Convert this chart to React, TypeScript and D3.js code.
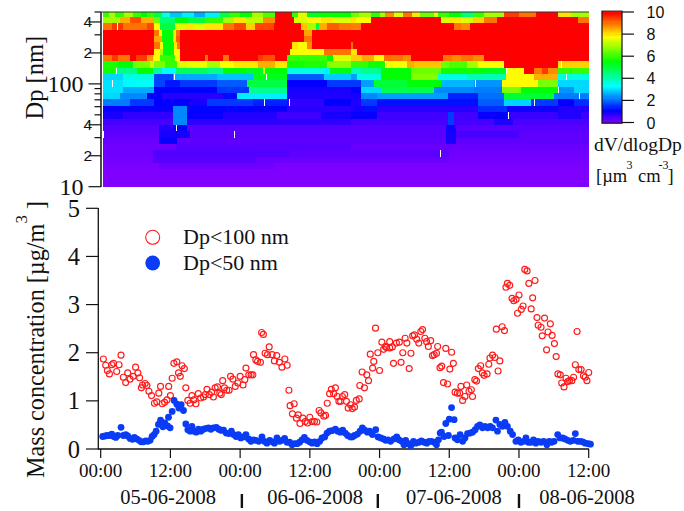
import React from "react";
import * as d3 from "d3";

// ---- Heat map: one list per size bin, top bin first; each entry = [end hour, dV/dlogDp]
const heatRows: number[][][] = [
  [[1.5,6],[2.5,7],[4,6],[5.5,7],[7,6],[8,5.5],[9.2,6],[10.5,5],[12,3.5],[14,2.8],[16,3.2],[18,2.6],[20.6,3.2],[22,5],[24,6],[26,5.5],[28,7],[30,6.2],[33,10],[34,6],[35.5,7.5],[38,5.3],[43,5.6],[44.5,6.5],[46.5,7],[48,6],[49,7],[50.5,8.8],[52,7.5],[53.5,9],[55,8],[57.4,6.5],[58,7.5],[60,6],[62,5.5],[64,4.5],[66,6],[68,7],[69.5,7],[72,9.5],[75,9],[78.7,10],[81,8],[84.2,7]],
  [[3.4,7],[5,8.5],[7,9.3],[9.1,8.5],[10.2,6.5],[12.8,4.6],[15,5.5],[18,5],[21,6],[23,7],[25,8],[28,7.2],[30,8.8],[33.2,10],[35.5,7.5],[38,7.8],[40,8],[43,7.5],[44,8],[46.5,7.8],[58.5,10],[60,7.5],[62,8],[64,7.5],[66,8.2],[68.3,9],[82.1,10],[84.2,9]],
  [[2,9],[3.9,9.5],[8,9],[9.1,9.4],[10.2,7.8],[12.8,5],[14.5,7.5],[16,8],[18,7.5],[21,8],[23,9],[25,9.4],[26.5,8.2],[29.8,9.4],[34.4,10],[35.5,8.3],[37,7],[37.6,5],[39,8.5],[41,9.2],[43,9],[44.8,8.9],[60.8,10],[62,9],[63.5,8.8],[84.2,10]],
  [[9.1,10],[10,9],[10.5,7.8],[12.5,5.5],[13,7.5],[13.7,9],[35,10],[36.4,8.6],[84.2,10]],
  [[9.1,10],[10.5,8.5],[12.4,5.5],[13,8],[13.7,9.2],[35,10],[36.4,9],[84.2,10]],
  [[9.1,10],[10.2,9],[10.7,7.7],[12.6,5.5],[13.2,8],[13.7,9],[33,10],[34,8],[35.5,7.8],[36.4,8.8],[43,10],[43.5,9],[44,10],[84.2,10]],
  [[9.1,10],[10.2,7.8],[10.7,7],[12.7,5.5],[13.7,7.8],[32.6,10],[35,7.7],[38.5,7.8],[43,9],[44.2,8],[84.2,10]],
  [[2,9],[3,9.5],[5,9],[6,10],[8,9.5],[9,8.7],[10.2,7.8],[12.8,6],[13.7,7.7],[18,10],[18.5,9],[21,10],[22,9],[27,10],[28,9.5],[30,9.3],[32,10],[39,6],[40,5.5],[43,7.5],[45,8.2],[47,8.5],[48.8,7.8],[49.5,9],[52,9],[53.4,8.8],[59,10],[60.5,9],[62,8.8],[64,9],[66,8.8],[84.2,10]],
  [[3,5.8],[5.6,5.5],[8.5,6.6],[9.1,7.3],[11,6.6],[13.1,6],[15,7.5],[18.3,7.6],[20.6,7],[23,7.8],[27,8],[30,8.5],[32.1,8],[35,5.7],[39,5.8],[43,6.8],[46,6],[49,5.7],[52.8,7.7],[54,8.5],[58.5,8.3],[60,6.5],[63,6.2],[65,7],[69.5,7.8],[78.7,10],[79.2,8],[84.2,8.2]],
  [[2.5,5.7],[6.2,4.4],[9,5.6],[10.5,4.2],[13,3.4],[18.3,4.8],[21,4.4],[25,5.5],[28,5.3],[28.3,7.5],[32.1,5.5],[38.4,3.6],[39.5,3.2],[43,5.4],[44.8,4],[48.2,4.3],[53.4,5.5],[58.5,6.5],[65.4,5.7],[69.75,5.3],[72.9,7.8],[74.5,10],[76,8.9],[77,9.5],[78.7,8.8],[84.2,6]],
  [[3.9,3],[9.1,3.6],[12.5,1.7],[20,2.6],[26.3,2.8],[32.1,5.3],[38.4,1.9],[43,2.9],[44.2,2.5],[48.2,3.6],[53.4,5.5],[58,6.7],[63,3.6],[69.75,4],[74.6,7.8],[78.7,8.5],[84.2,3.6]],
  [[3.9,3.1],[6,3.3],[9.1,3.4],[11,1.7],[13.7,1.3],[20,1.6],[25.2,1.9],[26.5,5],[32.1,5],[39,1.1],[43,1.6],[44.8,1.6],[47,2.5],[52.8,5.1],[58.5,5.5],[64.3,2.7],[69,2.4],[75.2,7.8],[78.7,6.6],[84.2,3]],
  [[3.9,3.1],[9.1,2.6],[20,1.1],[25.5,1.6],[32.1,4.3],[43,0.9],[44.8,1.1],[48.2,3],[57.4,4.9],[64.3,2.3],[69,2.2],[72.3,6.6],[78.7,5.5],[81.5,2.4],[84.2,3]],
  [[3.4,3],[8,2.3],[10.5,1.1],[21,0.8],[23.5,1.2],[32.1,3.2],[43,0.85],[44.8,0.9],[47.6,2.3],[59.7,2.5],[64.9,1.4],[69.5,2.1],[78.1,5.1],[84.2,2.2]],
  [[5,2.2],[9.1,1.6],[15.4,1.1],[18.3,0.9],[26.3,1.6],[32.1,1.4],[38.4,0.7],[43,1.1],[44.8,0.85],[47.6,1.6],[64.9,1.25],[69.5,1.9],[74,2.95],[78.7,1.6],[81.5,1.1],[84.2,1.5]],
  [[12.5,1.05],[14.8,2.3],[26,1.15],[32.1,1.05],[43,0.75],[45.3,0.9],[47.6,1.25],[64.9,0.76],[70,1.5],[78.7,1],[84.2,0.83]],
  [[3.9,0.9],[12.5,0.7],[14.8,2.3],[21.1,1.04],[30.3,0.83],[38,0.55],[43,0.9],[47.6,1.04],[59.7,0.55],[60.8,1.63],[64.9,0.55],[68.3,1.04],[70,1.11],[78.7,0.62],[82.7,0.83],[84.2,0.6]],
  [[12.5,0.5],[14.8,2.3],[43,0.7],[59.7,0.5],[60.8,1.63],[67.7,0.5],[71,0.83],[84.2,0.45]],
  [[10,0.35],[12.5,0.83],[14.8,1.04],[59.4,0.35],[61.1,0.97],[84.2,0.35]],
  [[10,0.28],[15.4,0.9],[59.4,0.35],[61.1,0.9],[72,0.5],[84.2,0.28]],
  [[10,0.2],[13.1,1.04],[59.4,0.28],[61.1,0.9],[84.2,0.28]],
  [[13,0.14],[43,0.35],[84.2,0.2]],
  [[9,0.14],[32.6,0.4],[60,0.3],[84.2,0.14]],
  [[9,0.08],[26.9,0.35],[60,0.2],[84.2,0.08]],
  [[10,0.05],[30,0.14],[84.2,0.03]],
  [[84.2,0]],
  [[84.2,0]],
  [[84.2,0]],
];
// Missing cells: [hour, row counted from the top]
const missingCells = [[2.87,2],[2.6,9],[1.9,11],[12.7,10],[28.45,10],[28.05,14],[32.35,14],[13,18],[23,19],[0.46,19],[64.5,11],[80.1,10],[78.8,12],[74.5,14],[70.15,16],[58.4,22],[49,8],[69.75,9],[79.2,8],[82.4,13]];

// ---- Scatter series: [hours since 00:00 on 05-06-2008, mass concentration]
const under100: number[][] = [
[0.46,1.87],[0.86,1.74],[1.15,1.63],[1.5,1.56],[1.9,1.75],[2.2,1.78],[2.75,1.61],[3.16,1.75],[3.5,1.95],[3.9,1.49],[4.3,1.38],[4.65,1.58],[5.05,1.45],[5.6,1.51],[6,1.7],[6.4,1.58],[6.7,1.48],[7,1.27],[7.2,1.33],[7.65,1.36],[7.95,1.32],[8.3,1.2],[8.75,1.11],[9.25,0.95],[9.65,0.98],[10,1.16],[10.3,1.3],[10.6,0.94],[11,0.97],[11.4,1.02],[11.7,1.3],[12,1.11],[12.3,1.47],[12.6,1.78],[13.1,1.81],[13.4,1.58],[13.7,1.51],[14,1.73],[14.4,1.67],[14.65,1.27],[15,1.01],
[15.4,0.95],[15.7,1.11],[16,1.02],[16.4,0.94],[16.8,1.15],[17.2,1.06],[17.7,1.08],[18,1.13],[18.3,1.24],[18.7,1.13],[19.1,1.18],[19.4,1.08],[19.7,1.27],[20.1,1.29],[20.5,1.16],[20.75,1.13],[21,1.42],[21.3,1.27],[21.7,1.22],[22.1,1.22],[22.35,1.51],[22.75,1.45],[23.16,1.3],[23.6,1.37],[24,1.51],[24.5,1.33],[24.8,1.44],[25,1.68],[25.5,1.54],[25.9,1.54],[26.2,1.54],[26.3,1.96],[26.7,1.85],[27,1.82],[27.5,1.8],[27.7,2.42],[28,2.38],[28.3,1.99],[28.7,1.96],[29,2.12],[29.5,1.96],[29.9,1.83],[30.3,1.94],[30.75,1.8],[31.2,1.7],[31.7,1.87],[32.1,1.74],[32.4,1.22],[32.6,0.9],[33,0.73],[33.3,0.94],[33.7,0.64],[34,0.71],[34.3,0.53],[34.8,0.64],[35.2,0.57],[35.6,0.54],[36,0.66],[36.4,0.57],[36.8,0.57],[37.2,0.56],[37.6,0.8],[37.9,0.75],[38.4,0.68],[38.7,0.7],[39,0.95],[39.4,1.15],[39.7,1.24],[40.1,1.15],[40.4,1.27],[40.7,1.09],[41,0.99],
[41.3,0.99],[41.6,1.09],[42,1.13],[42.3,0.99],[42.6,0.85],[43,0.92],[43.3,0.84],[43.7,0.87],[44,1.01],[44.5,1.04],[44.6,1.32],[45,1.6],[45.4,1.27],[45.8,1.54],[46.1,1.42],[46.4,1.97],[46.8,1.68],[47,1.82],[47.3,2.51],[47.7,2],[48,1.63],[48.4,2.22],[48.7,2.07],[49,2.13],[49.2,2.11],[49.75,2.23],[49.75,2.1],[50.2,2.12],[50.4,1.78],[50.9,2.2],[51.4,2.22],[51.7,1.8],[52,2],[52.4,2.3],[52.7,2.2],[53.1,1.67],[53.4,1.99],[53.7,2.35],[54,2.37],[54.4,2.28],[54.75,2.2],[55.1,2.44],[55.4,2.48],[55.8,2.3],[56.1,2.23],[56.4,2.13],[56.8,2.25],[57.1,1.94],[57.4,1.96],[57.8,1.99],[58,2.13],[58.4,1.69],[58.7,1.72],[59,1.38],[59.4,2.09],[59.7,1.35],[60.1,1.66],[60.4,2.01],[60.7,1.78],[61,1.18],[61.4,1.16],[61.8,1.16],[62,1.3],[62.3,1.01],[62.7,1.09],[63,1.33],[63.4,1.2],[63.8,1.23],[64,1.09],[64.4,1.44],[64.7,1.41],[65,1.67],[65.4,1.73],[65.7,1.58],[66,1.53],[66.5,1.56],[66.8,1.76],[67,1.89],[67.45,1.95],[67.85,1.9],[68.1,2.49],[68.4,1.62],[68.7,1.83],[69.1,2.54],[69.5,2.46],[69.75,3.36],[70,3.44],[70.4,3.4],[70.8,3.13],[71.1,3.08],[71.5,3.11],[71.75,2.82],[72,3.2],[72.4,2.9],[72.7,2.97],[73,3.73],[73.4,3.7],[73.7,3.44],[74.1,2.91],[74.35,3.14],[74.75,3.5],[75.1,2.73],[75.3,2.57],[75.8,2.53],[76,2.35],[76.4,2.72],[76.75,2.06],[77,2.43],[77.4,2.6],[77.7,2.36],[78.1,2.19],[78.4,1.92],[78.7,1.56],[79.1,1.54],[79.35,1.37],[79.75,1.29],[80.1,1.47],[80.4,1.4],[80.7,1.42],[81.1,1.42],[81.4,1.49],[81.7,1.75],[82,2.44],[82.3,1.65],[82.7,1.65],[83.1,1.52],[83.4,1.49],[83.7,1.42],[84,1.59],
];
const under50: number[][] = [
[0.34,0.26],[0.75,0.27],[1.15,0.28],[1.5,0.28],[1.9,0.31],[2.24,0.26],[2.6,0.24],[2.93,0.28],[3.5,0.45],[3.9,0.28],[4.3,0.3],[4.65,0.27],[5.06,0.22],[5.46,0.2],[5.8,0.24],[6.2,0.21],[6.6,0.18],[6.95,0.15],[7.35,0.15],[7.76,0.17],[8.1,0.16],[8.5,0.18],[8.85,0.26],[9.2,0.3],[9.54,0.37],[9.94,0.51],[10.3,0.6],[10.7,0.46],[11.03,0.54],[11.5,0.48],[11.67,0.66],[11.95,0.44],[12.3,0.78],[12.64,1.01],[13.1,0.93],[13.45,0.85],[13.85,0.92],[14.25,0.8],[14.65,0.52],[15,0.4],[15.4,0.37],[15.7,0.47],[16.1,0.37],[16.44,0.35],[16.84,0.41],[17.24,0.37],[17.7,0.41],[18.16,0.43],[18.56,0.44],[18.96,0.41],[19.4,0.44],[19.9,0.45],[20.3,0.41],[20.7,0.39],[21.15,0.39],[21.6,0.33],[22.07,0.32],[22.5,0.37],[22.87,0.3],[23.3,0.26],[23.7,0.3],[24.1,0.23],[24.6,0.25],[25,0.3],[25.46,0.21],[25.86,0.16],[26.3,0.19],[26.7,0.18],[27.2,0.16],[27.76,0.25],[28.16,0.16],[28.6,0.12],[29.1,0.18],[29.54,0.15],[29.9,0.12],[30.34,0.23],[30.8,0.16],[31.2,0.18],[31.66,0.22],[32.07,0.14],[32.5,0.14],[32.93,0.09],[33.33,0.11],[33.8,0.11],[34.25,0.14],[34.65,0.19],[35.06,0.24],[35.5,0.18],[35.97,0.15],[36.4,0.12],[36.8,0.15],[37.24,0.11],[37.7,0.16],[38.1,0.23],[38.56,0.25],[38.96,0.33],[39.37,0.37],[39.8,0.38],[40.4,0.41],[40.8,0.37],[41.26,0.35],[41.66,0.39],[42.1,0.33],[42.5,0.28],[43,0.25],
[43.3,0.25],[43.7,0.28],[44.2,0.31],[44.64,0.37],[45.04,0.44],[45.44,0.39],[45.9,0.35],[46.3,0.37],[46.76,0.3],[47.34,0.4],[47.74,0.25],[48.2,0.23],[48.66,0.21],[49.06,0.18],[49.46,0.19],[49.9,0.16],[50.5,0.21],[50.96,0.25],[51.36,0.19],[51.8,0.16],[52.2,0.09],[52.5,0.18],[52.97,0.11],[53.37,0.07],[53.83,0.16],[54.23,0.12],[54.8,0.14],[55.2,0.17],[55.67,0.14],[56.13,0.12],[56.53,0.16],[56.93,0.16],[57.4,0.14],[57.8,0.09],[58.14,0.19],[58.43,0.33],[58.66,0.35],[59.1,0.26],[59.4,0.53],[59.86,0.28],[60,0.62],[60.4,0.86],[60.84,0.61],[61,0.23],[61.4,0.19],[61.87,0.3],[62.3,0.16],[62.7,0.23],[63.14,0.32],[63.6,0.33],[64,0.35],[64.46,0.4],[64.87,0.47],[65.27,0.5],[65.73,0.44],[66.13,0.47],[66.6,0.44],[67.04,0.47],[67.44,0.44],[68.03,0.6],[68.3,0.37],[68.7,0.51],[69.17,0.47],[69.58,0.55],[70,0.47],[70.5,0.37],[70.9,0.3],[71.47,0.16],[71.87,0.19],[72.33,0.14],[72.8,0.16],[73.2,0.23],[73.6,0.14],[74.05,0.14],[74.5,0.19],[74.9,0.12],[75.3,0.16],[75.8,0.14],[76.24,0.16],[76.8,0.09],[77.2,0.16],[77.6,0.14],[78.05,0.16],[78.66,0.3],[79.06,0.23],[79.5,0.23],[79.9,0.21],[80.4,0.18],[80.84,0.16],[81.36,0.18],[81.7,0.32],[82.1,0.16],[82.56,0.16],[82.97,0.15],[83.4,0.12],[83.94,0.11],[84.3,0.1],
];

const massTicks = [0, 1, 2, 3, 4, 5];
const timeTickHours = [0, 12, 24, 36, 48, 60, 72, 84];
const timeTickLabels = ["00:00", "12:00", "00:00", "12:00", "00:00", "12:00", "00:00", "12:00"];
const dateLabels = ["05-06-2008", "06-06-2008", "07-06-2008", "08-06-2008"];
const dateCentres = [11.6, 36.9, 60.8, 83.7];
const dateSeparators = [24.3, 47.7, 72];
const dpMajor = [10, 20, 40, 100, 200, 400];
const dpMinor = [30, 50, 60, 70, 80, 90, 300, 500];
const dpLabels: Record<number, string> = { 10: "10", 20: "2", 40: "4", 100: "100", 200: "2", 400: "4" };
const colorTicks = [0, 2, 4, 6, 8, 10];

const SERIF = "'Liberation Serif', 'Times New Roman', serif";
const SANS = "'Liberation Sans', Arial, sans-serif";
const INK = "#111";

const x = d3.scaleLinear().domain([0, 84]).range([100.7, 588.7]);
const yMass = d3.scaleLinear().domain([0, 5]).range([449, 208.3]);
const yDp = d3.scaleLog().domain([10, 500]).range([186.7, 12]).clamp(true);
const yColor = d3.scaleLinear().domain([0, 10]).range([122.5, 12]);
const rainbow = (v: number) => d3.hsl(270 * (1 - Math.min(v, 10) / 10), 1, 0.5).formatHex();

// Bin edges: about 16 size channels per decade
const edgeDp = (j: number) => Math.pow(10, 1 + 0.0467 + j / 16.22);

export default function App() {
  const nRows = heatRows.length;
  const rowBand = (rowFromTop: number) => {
    const r = nRows - 1 - rowFromTop;
    const lo = r === 0 ? 10 : edgeDp(r - 1);
    const hi = r === nRows - 1 ? 500 : edgeDp(r);
    return { top: yDp(hi), bottom: yDp(lo) };
  };
  const barSteps = d3.range(0, 10, 0.1);
  return (
    <svg width={684} height={511} style={{ position: "absolute", left: 0, top: 0, background: "#fff" }}>
      {/* heat map */}
      <g shapeRendering="crispEdges" style={{ filter: "blur(0.35px)" }}>
        {heatRows.map((row, i) => {
          const { top, bottom } = rowBand(i);
          let start = 0.46;
          return row.map(([end, v], k) => {
            const x0 = x(start);
            const x1 = x(Math.min(end, 84));
            start = end;
            return <rect key={`${i}-${k}`} x={x0} y={top} width={x1 - x0 + 0.4} height={bottom - top + 0.4} fill={rainbow(v)} />;
          });
        })}
        {missingCells.map(([h, r], i) => {
          const { top, bottom } = rowBand(r);
          return <rect key={i} x={x(h)} y={top} width={1} height={bottom - top} fill="#fff" />;
        })}
      </g>
      {/* heat map axes */}
      <line x1={101} x2={101} y1={12} y2={187} stroke={INK} strokeWidth={1.5} />
      <line x1={101} x2={589} y1={12} y2={12} stroke="#333" strokeWidth={1.2} />
      {dpMajor.map((d) => (
        <line key={d} x1={88.5} x2={101} y1={yDp(d)} y2={yDp(d)} stroke={INK} strokeWidth={1.2} />
      ))}
      {dpMinor.map((d) => (
        <line key={d} x1={94.5} x2={101} y1={yDp(d)} y2={yDp(d)} stroke={INK} strokeWidth={1.2} />
      ))}
      {dpMajor.map((d) =>
        d === 10 || d === 100 ? (
          <text key={d} x={83.5} y={yDp(d) + 8.5} textAnchor="end" fontFamily={SERIF} fontSize={24} fill={INK}>{dpLabels[d]}</text>
        ) : (
          <text key={d} x={92} y={yDp(d) + 5.5} textAnchor="end" fontFamily={SANS} fontSize={15.5} fill={INK}>{dpLabels[d]}</text>
        )
      )}
      <text transform="translate(43,119.5) rotate(-90)" fontFamily={SERIF} fontSize={24.5} fill={INK}>Dp [nm]</text>

      {/* colour bar */}
      <g shapeRendering="crispEdges">
        {barSteps.map((v) => (
          <rect key={v} x={602} y={yColor(v + 0.1)} width={20} height={yColor(v) - yColor(v + 0.1) + 0.5} fill={rainbow(v + 0.05)} />
        ))}
      </g>
      <rect x={602} y={11.2} width={20} height={112} fill="none" stroke={INK} strokeWidth={1.2} />
      {colorTicks.map((t) => (
        <g key={t}>
          <line x1={622} x2={634} y1={yColor(t)} y2={yColor(t)} stroke={INK} strokeWidth={1.2} />
          <text x={646.5} y={yColor(t) + 6} fontFamily={SANS} fontSize={16} fill={INK}>{t}</text>
        </g>
      ))}
      <text x={594} y={151} fontFamily={SERIF} fontSize={19.5} fill={INK}>dV/dlogDp</text>
      <text x={596} y={182} fontFamily={SERIF} fontSize={18.5} fill={INK}>[µm</text>
      <text x={626.5} y={169} fontFamily={SERIF} fontSize={12} fill={INK}>3</text>
      <text x={638} y={182} fontFamily={SERIF} fontSize={18.5} fill={INK}>cm</text>
      <text x={658.5} y={169} fontFamily={SERIF} fontSize={12} fill={INK}>-3</text>
      <text x={667.5} y={182} fontFamily={SERIF} fontSize={18.5} fill={INK}>]</text>

      {/* scatter axes */}
      <line x1={98.3} x2={98.3} y1={208} y2={449.5} stroke={INK} strokeWidth={1.3} />
      <line x1={98} x2={589} y1={449} y2={449} stroke={INK} strokeWidth={1.3} />
      {massTicks.map((t) => (
        <g key={t}>
          <line x1={86} x2={98.3} y1={yMass(t)} y2={yMass(t)} stroke={INK} strokeWidth={1.2} />
          <text x={80} y={yMass(t) + 8.5} textAnchor="end" fontFamily={SERIF} fontSize={24.5} fill={INK}>{t}</text>
        </g>
      ))}
      {timeTickHours.map((h, i) => (
        <g key={h}>
          <line x1={x(h)} x2={x(h)} y1={449} y2={458} stroke={INK} strokeWidth={1.2} />
          <text x={x(h)} y={476.5} textAnchor="middle" fontFamily={SERIF} fontSize={19} fill={INK}>{timeTickLabels[i]}</text>
        </g>
      ))}
      {dateLabels.map((d, i) => (
        <text key={d} x={x(dateCentres[i])} y={503.5} textAnchor="middle" fontFamily={SERIF} fontSize={20.5} fill={INK}>{d}</text>
      ))}
      {dateSeparators.map((h) => (
        <line key={h} x1={x(h)} x2={x(h)} y1={494} y2={508} stroke="#111" strokeWidth={2.4} />
      ))}
      <text transform="translate(44,478) rotate(-90)" fontFamily={SERIF} fontSize={24.2} fill={INK}>
        Mass concentration [µg/m<tspan dy={-17} fontSize={17}>3</tspan><tspan dy={17}> ]</tspan>
      </text>

      {/* series */}
      {under100.map(([h, v], i) => (
        <circle key={i} cx={x(h)} cy={yMass(v)} r={3} fill="none" stroke="#ff1a1a" strokeWidth={1.15} />
      ))}
      {under50.map(([h, v], i) => (
        <circle key={i} cx={x(h)} cy={yMass(v)} r={3.4} fill="#0a3cf5" />
      ))}

      {/* legend */}
      <circle cx={152.7} cy={237.3} r={7} fill="none" stroke="#ff1a1a" strokeWidth={1.1} />
      <circle cx={152.7} cy={263} r={7.4} fill="#0a3cf5" />
      <text x={183} y={244} fontFamily={SERIF} fontSize={22} fill={INK}>Dp&lt;100 nm</text>
      <text x={183} y={270} fontFamily={SERIF} fontSize={22} fill={INK}>Dp&lt;50 nm</text>
    </svg>
  );
}
